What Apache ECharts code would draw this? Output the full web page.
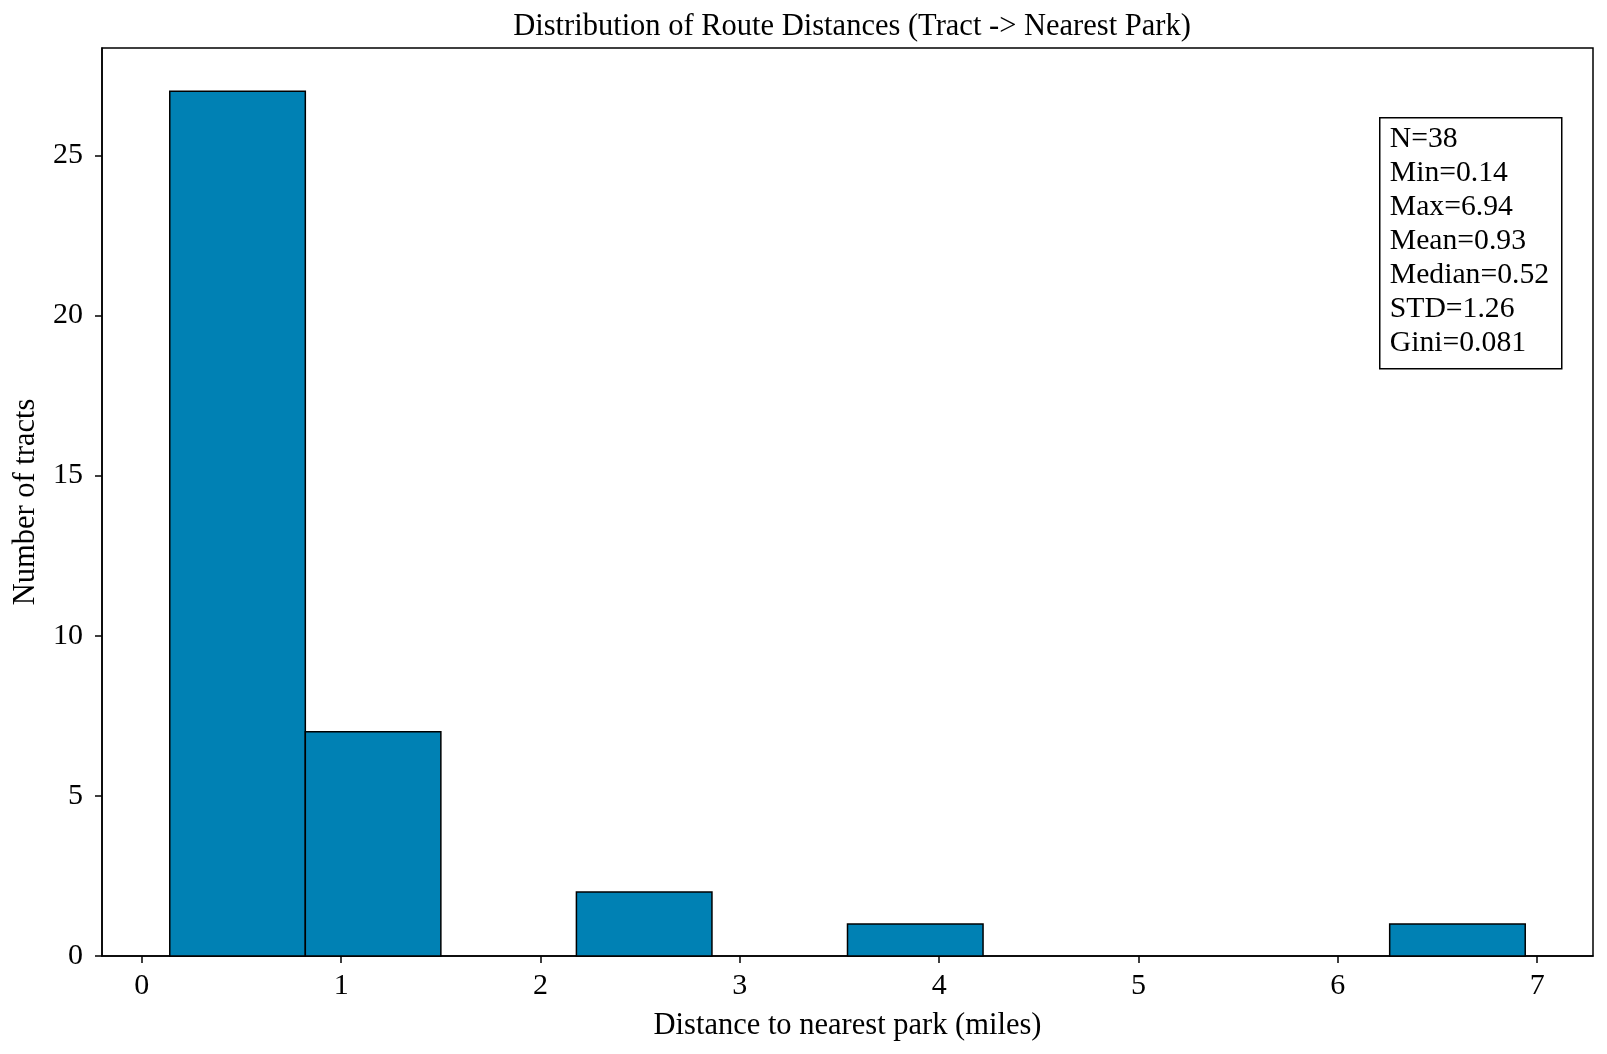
<!DOCTYPE html>
<html>
<head>
<meta charset="utf-8">
<script src="https://cdn.jsdelivr.net/npm/echarts@6/dist/echarts.min.js"></script>
<style>
html,body{margin:0;padding:0;background:#fff;}
#chart{width:1607px;height:1054px;}
</style>
</head>
<body>
<div id="chart"></div>
<script>
// Data
const binEdges = [0.14, 0.82, 1.50, 2.18, 2.86, 3.54, 4.22, 4.90, 5.58, 6.26, 6.94];
const counts = [27, 7, 0, 2, 0, 1, 0, 0, 0, 1];
const xTicks = [0, 1, 2, 3, 4, 5, 6, 7];
const yTicks = [0, 5, 10, 15, 20, 25];
const statsLines = ['N=38', 'Min=0.14', 'Max=6.94', 'Mean=0.93', 'Median=0.52', 'STD=1.26', 'Gini=0.081'];
const titleText = 'Distribution of Route Distances (Tract -> Nearest Park)';
const xName = 'Distance to nearest park (miles)';
const yName = 'Number of tracts';

const FONT = "'Liberation Serif', 'Times New Roman', serif";
const barData = counts.map((c, i) => [binEdges[i], binEdges[i + 1], c]);

const xMin = binEdges[0] - 0.05 * (binEdges[binEdges.length - 1] - binEdges[0]);
const xMax = binEdges[binEdges.length - 1] + 0.05 * (binEdges[binEdges.length - 1] - binEdges[0]);
const yMax = Math.max(...counts) * 1.05;

const chart = echarts.init(document.getElementById('chart'), null, {renderer: 'canvas'});
chart.setOption({
  animation: false,
  backgroundColor: '#ffffff',
  title: {
    text: titleText,
    left: 847, top: 6, textAlign: 'center',
    textStyle: {fontFamily: FONT, fontSize: 30.5, fontWeight: 'normal', color: '#000'}
  },
  grid: {
    left: 102, top: 48, right: 14, bottom: 98,
    outerBoundsMode: 'none', containLabel: false,
    show: true, borderColor: '#000', borderWidth: 1.5, backgroundColor: 'transparent'
  },
  xAxis: {
    type: 'value', min: xMin, max: xMax,
    name: xName, nameLocation: 'middle', nameGap: 54,
    nameTextStyle: {fontFamily: FONT, fontSize: 30.5, color: '#000'},
    splitLine: {show: false},
    axisLine: {show: true, onZero: false, lineStyle: {color: '#000', width: 1.5}},
    axisTick: {show: true, length: 7, inside: false, customValues: xTicks, lineStyle: {color: '#000', width: 1.5}},
    axisLabel: {customValues: xTicks, fontFamily: FONT, fontSize: 30, color: '#000', margin: 15}
  },
  yAxis: {
    type: 'value', min: 0, max: yMax,
    name: yName, nameLocation: 'middle', nameGap: 61, nameRotate: 90,
    nameTextStyle: {fontFamily: FONT, fontSize: 30.5, color: '#000'},
    splitLine: {show: false},
    axisLine: {show: true, onZero: false, lineStyle: {color: '#000', width: 1.5}},
    axisTick: {show: true, length: 7, inside: false, customValues: yTicks, lineStyle: {color: '#000', width: 1.5}},
    axisLabel: {customValues: yTicks, fontFamily: FONT, fontSize: 30, color: '#000', margin: 19}
  },
  series: [{
    type: 'custom',
    data: barData,
    encode: {x: [0, 1], y: 2},
    renderItem: function (params, api) {
      const c = api.value(2);
      if (!c) return null;
      const p0 = api.coord([api.value(0), c]);
      const p1 = api.coord([api.value(1), 0]);
      return {
        type: 'rect',
        shape: {x: p0[0], y: p0[1], width: p1[0] - p0[0], height: p1[1] - p0[1]},
        style: {fill: '#0081b4', stroke: '#000', lineWidth: 1.5}
      };
    }
  }],
  graphic: [{
    type: 'group', left: 1379, top: 117,
    children: [
      {type: 'rect', shape: {x: 0, y: 0, width: 182, height: 251},
       style: {fill: '#fff', stroke: '#000', lineWidth: 1.5}},
      {type: 'text', left: 10, top: 4,
       style: {text: statsLines.join('\n'), font: "29.7px " + FONT, lineHeight: 34, fill: '#000'}}
    ]
  }]
});
</script>
</body>
</html>
